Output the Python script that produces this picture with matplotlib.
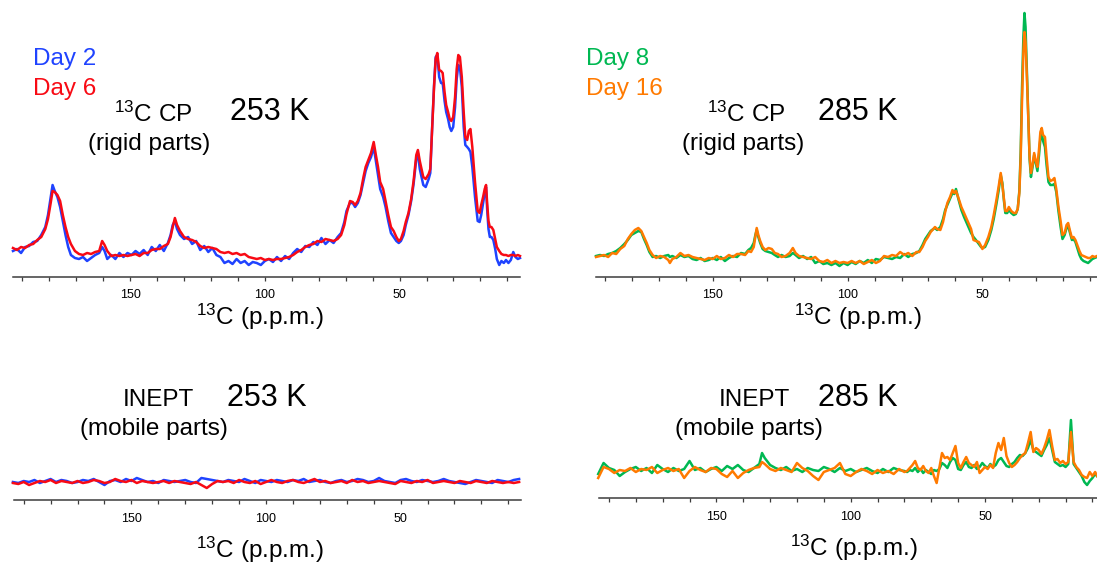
"""
13C CP / INEPT spectra at 253 K and 285 K
"""

import matplotlib
matplotlib.use("Agg")
import matplotlib.pyplot as plt

# ---- data (intensities in arbitrary units) ----

# 13C CP, 253 K
cp253_ppm = [193.5, 192, 190.5, 189, 187.5, 186, 184.5, 183, 181.5, 180.5,
             179.5, 178.8, 178, 177, 176, 175, 174, 173, 172, 170.5,
             169, 167.5, 166, 164.5, 163, 161.5, 160.4, 159.5, 158.5, 157,
             155.5, 154, 152.5, 151, 149.5, 148, 146.5, 145, 143.5, 142,
             140.5, 139, 137.5, 136, 135, 134.2, 133.4, 132.6, 131.5, 130,
             128.5, 127, 125.5, 124, 122.5, 121, 119.5, 118, 116.5, 115,
             113.5, 112, 110.5, 109, 107.5, 106, 104.5, 103, 101.5, 100,
             98.5, 97, 95.5, 94, 92.5, 91, 89.5, 88, 86.5, 85,
             83.5, 82, 80.5, 79, 77.5, 76, 74.5, 73, 71.7, 70.5,
             69.7, 68.4, 67.4, 66.5, 65.5, 64.5, 63.4, 62.6, 61.6, 60.6,
             59.6, 58.8, 58, 57.2, 56.1, 55.2, 54.2, 53.2, 52.2, 51.2,
             50.3, 49.5, 48.5, 47.7, 46.7, 45.7, 44.8, 43.8, 43.2, 42.5,
             41.2, 40.3, 39.2, 38.6, 37.9, 37.2, 36.6, 36.0, 35.3, 34.6,
             34.0, 33.3, 32.7, 32.0, 31.4, 30.8, 30.1, 29.4, 28.8, 28.2,
             27.6, 26.9, 26.2, 25.6, 24.9, 24.3, 23.7, 23.0, 22.0, 21.0,
             20.3, 19.7, 19.0, 18.4, 17.9, 17.5, 17.0, 16.5, 15.9, 15.2,
             14.5, 13.9, 13.0, 12.2, 11.3, 10.5, 9.6, 8.7, 7.8, 7.0,
             6.1, 5.3]
cp253_day2 = [26, 28, 24, 30, 31, 35, 36, 42, 50, 62,
              80, 92, 86, 80, 70, 56, 42, 30, 22, 19,
              18, 20, 16, 19, 22, 24, 30, 26, 18, 22,
              18, 24, 20, 24, 22, 26, 23, 27, 22, 30,
              26, 32, 26, 34, 42, 52, 56, 48, 42, 38,
              40, 33, 36, 27, 31, 25, 29, 22, 20, 14,
              16, 13, 18, 14, 16, 12, 15, 14, 12, 16,
              18, 15, 20, 16, 21, 18, 24, 28, 25, 31,
              30, 35, 32, 39, 33, 37, 34, 40, 44, 55,
              66, 74, 74, 70, 74, 82, 96, 106, 114, 120,
              130, 116, 102, 88, 80, 70, 56, 44, 40, 36,
              34, 36, 42, 52, 62, 76, 93, 118, 124, 108,
              92, 90, 98, 104, 150, 192, 220, 222, 200, 194,
              194, 176, 165, 158, 150, 146, 150, 170, 198, 212,
              210, 190, 150, 132, 130, 128, 125, 110, 80, 56,
              55, 62, 74, 84, 90, 68, 48, 40, 40, 37,
              28, 18, 12, 16, 14, 17, 14, 17, 25, 20,
              18, 19]
cp253_day6 = [29, 27, 30, 29, 32, 33, 37, 40, 48, 58,
              74, 86, 85, 82, 76, 62, 50, 40, 33, 26,
              23, 22, 24, 23, 25, 26, 36, 32, 26, 21,
              22, 21, 22, 21, 22, 23, 21, 24, 24, 27,
              28, 28, 31, 33, 40, 50, 59, 52, 46, 40,
              38, 37, 35, 31, 29, 30, 29, 28, 25, 24,
              25, 23, 24, 22, 23, 20, 19, 18, 19, 17,
              18, 17, 18, 18, 19, 20, 22, 25, 27, 30,
              32, 33, 36, 35, 38, 37, 36, 38, 42, 52,
              63, 76, 75, 72, 76, 84, 100, 110, 117, 124,
              135, 122, 110, 95, 88, 76, 62, 50, 46, 40,
              36, 38, 46, 55, 64, 78, 96, 122, 127, 116,
              100, 98, 103, 108, 150, 190, 218, 224, 207, 206,
              204, 185, 172, 165, 158, 156, 160, 180, 208, 222,
              220, 200, 165, 140, 137, 146, 148, 130, 95, 66,
              64, 72, 80, 88, 92, 74, 56, 50, 50, 47,
              38, 30, 26, 23, 22, 22, 21, 22, 22, 21,
              22, 21]

# 13C CP, 285 K
cp285_ppm = [193.3, 191.8, 190.3, 188.8, 187.3, 185.8, 184.3, 182.8, 181.5, 180.2,
             178.9, 177.6, 176.5, 175.5, 174.5, 173.5, 172.3, 171, 169.5, 168,
             166.5, 165.9, 165, 163.5, 162, 160.5, 159, 157.5, 156, 154.5,
             153, 151.5, 150, 148.5, 147, 145.5, 144, 142.5, 141, 139.5,
             138, 136.8, 135.8, 134.8, 134.2, 133.7, 133.1, 132.4, 131.5, 130.5,
             129.3, 128.1, 127, 125.8, 124.5, 123, 121.5, 120.3, 119.3, 118,
             116.5, 115, 113.5, 112, 110.5, 109, 107.5, 106, 104.5, 103,
             101.5, 100, 98.5, 97, 95.5, 94, 92.5, 91, 89.5, 88,
             86.5, 85, 83.5, 82, 80.5, 79, 77.5, 76, 74.5, 73.4,
             72.2, 71.2, 70.2, 69.2, 68.2, 67.6, 66.8, 65.6, 64.6, 63.8,
             63, 62, 61.1, 60.4, 59.8, 59, 57.8, 56.8, 55.2, 54.2,
             53.3, 52.4, 51.3, 50.5, 50.0, 49, 47.8, 46.7, 45.8, 44.8,
             44.0, 43.2, 42.6, 42.0, 41.5, 40.8, 40.2, 39.3, 38.4, 37.6,
             36.9, 36.3, 35.8, 35.3, 34.8, 34.4, 34.0, 33.5, 33.0, 32.5,
             32.0, 31.4, 30.8, 30.2, 29.6, 29.0, 28.5, 28.0, 27.5, 26.8,
             26.2, 25.5, 24.8, 24.0, 23.3, 22.6, 21.8, 21.0, 20.3, 19.5,
             18.8, 18.2, 17.5, 16.8, 16.2, 15.5, 14.8, 14.0, 13.3, 12.5,
             11.6, 10.8, 10.0, 9.2, 8.4, 7.5]
cp285_day8 = [21, 22, 21, 23, 24, 26, 29, 33, 37, 42,
              44, 46, 45, 38, 32, 25, 20, 21, 19, 21,
              22, 20, 21, 19, 22, 20, 21, 18, 17, 19,
              16, 17, 19, 17, 20, 16, 19, 21, 20, 24,
              23, 27, 29, 34, 42, 47, 40, 34, 28, 26,
              25, 24, 22, 20, 22, 20, 21, 24, 22, 19,
              21, 18, 20, 14, 16, 13, 14, 12, 14, 11,
              14, 12, 15, 13, 16, 14, 17, 14, 18, 17,
              20, 19, 18, 20, 19, 23, 20, 23, 24, 26,
              32, 38, 42, 46, 48, 49, 47, 50, 58, 67,
              72, 78, 84, 83, 88, 79, 67, 60, 50, 44,
              40, 37, 33, 30, 29, 30, 37, 47, 58, 73,
              86, 102, 94, 76, 64, 64, 67, 64, 62, 63,
              68, 86, 125, 190, 240, 264, 250, 205, 158, 118,
              100, 110, 122, 114, 106, 122, 138, 144, 136, 130,
              112, 95, 92, 92, 93, 85, 66, 50, 38, 42,
              49, 51, 44, 37, 38, 35, 29, 22, 18, 16,
              15, 14, 16, 18, 19, 20]
cp285_day16 = [20, 21, 22, 20, 24, 23, 28, 31, 38, 43,
               47, 49, 46, 40, 34, 27, 22, 19, 21, 20,
               17, 14, 18, 20, 24, 21, 22, 20, 19, 18,
               17, 19, 18, 21, 18, 19, 22, 20, 23, 23,
               22, 26, 25, 30, 40, 49, 42, 36, 30, 27,
               29, 28, 24, 23, 20, 21, 24, 29, 24, 21,
               20, 19, 18, 20, 16, 15, 17, 14, 16, 14,
               15, 14, 16, 14, 16, 13, 15, 17, 14, 16,
               21, 20, 22, 21, 25, 22, 24, 21, 25, 25,
               30, 36, 40, 45, 48, 50, 48, 47, 55, 65,
               74, 80, 87, 84, 86, 80, 70, 64, 54, 48,
               37, 36, 35, 31, 28, 32, 40, 50, 62, 77,
               90, 104, 92, 78, 66, 66, 70, 66, 64, 64,
               68, 84, 120, 177, 225, 245, 235, 200, 160, 120,
               104, 112, 124, 116, 110, 128, 145, 149, 142, 140,
               120, 100, 96, 97, 99, 88, 70, 56, 42, 44,
               52, 54, 46, 39, 40, 37, 32, 26, 22, 21,
               20, 19, 19, 21, 20, 21]

# INEPT, 253 K
inept253_ppm = [194, 192, 190, 188, 186, 184, 182, 180, 178, 176,
                174, 172, 170, 168, 166, 164, 162, 160, 158, 156,
                154, 152, 150, 148, 146, 144, 142, 140, 138, 136,
                134, 132, 130, 128, 126, 124, 122, 120, 118, 116,
                114, 112, 110, 108, 106, 104, 102, 100, 98, 96,
                94, 92, 90, 88, 86, 84, 82, 80, 78, 76,
                74, 72, 70, 68, 66, 64, 62, 60, 58, 56,
                54, 52, 50, 48, 46, 44, 42, 40, 38, 36,
                34, 32, 30, 28, 26, 24, 22, 20, 18, 16,
                14, 12, 10, 8, 6]
inept253_day2 = [18, 17, 19, 18, 20, 17, 19, 21, 18, 20,
                 19, 17, 18, 20, 19, 21, 18, 15, 19, 20,
                 18, 21, 19, 22, 20, 18, 19, 17, 20, 19,
                 18, 19, 20, 18, 17, 22, 21, 20, 19, 18,
                 20, 19, 18, 21, 19, 17, 20, 19, 18, 20,
                 19, 18, 20, 19, 21, 18, 19, 20, 18, 17,
                 19, 20, 18, 19, 21, 20, 18, 19, 22, 19,
                 18, 17, 20, 21, 19, 18, 20, 19, 18, 19,
                 21, 19, 18, 17, 16, 18, 20, 19, 18, 17,
                 20, 19, 18, 20, 21]
inept253_day6 = [17, 16, 18, 15, 17, 19, 18, 20, 17, 19,
                 18, 17, 19, 17, 18, 20, 19, 17, 18, 21,
                 19, 18, 20, 17, 19, 18, 17, 18, 19, 17,
                 19, 18, 17, 16, 18, 15, 12, 16, 19, 18,
                 19, 17, 20, 18, 17, 19, 16, 18, 20, 18,
                 17, 19, 20, 18, 17, 19, 21, 18, 19, 17,
                 18, 19, 17, 20, 18, 19, 17, 18, 19, 18,
                 17, 16, 19, 18, 17, 19, 18, 20, 17, 18,
                 19, 18, 17, 19, 18, 17, 19, 18, 17, 19,
                 18, 17, 18, 17, 18]

# INEPT, 285 K
inept285_ppm = [194, 192, 190, 188, 186, 184, 182, 180, 178, 176,
                174, 172, 170, 168, 166, 164, 162, 160, 158, 156,
                154, 152, 150, 148, 146, 144, 142, 140, 138, 136,
                134, 133, 132, 130, 128, 126, 124, 122, 120, 118,
                116, 114, 112, 110, 108, 106, 104, 102, 100, 98,
                96, 94, 92, 90, 88, 86, 84, 82, 80,
                79, 78, 77, 76, 75, 74, 73, 72, 71, 70,
                69, 68, 67, 66, 65, 64, 63, 62, 61, 60,
                59, 58, 57, 56, 55, 54, 53, 52, 51, 50,
                49, 48, 47, 46, 45, 44, 43, 42, 41, 40,
                39, 38, 37, 36, 35, 34, 33, 32, 31, 30,
                29, 28, 27, 26, 25, 24, 23, 22, 21, 20,
                19, 18, 17, 16, 15, 14, 13, 12, 11, 10,
                9, 8, 7]
inept285_day8 = [24, 35, 30, 28, 22, 26, 29, 31, 27, 30,
                 25, 33, 29, 26, 30, 27, 29, 37, 28, 30,
                 26, 29, 31, 27, 32, 29, 33, 28, 26, 30,
                 34, 45, 40, 33, 30, 28, 31, 27, 29, 26,
                 30, 28, 27, 31, 29, 26, 30, 27, 29, 26,
                 28, 30, 27, 25, 29, 26, 30, 28, 27,
                 26, 28, 27, 30, 26, 29, 25, 28, 26, 24,
                 28, 27, 29, 35, 33, 30, 36, 40, 38, 29,
                 28, 33, 36, 31, 30, 33, 29, 31, 35, 32,
                 30, 34, 31, 33, 38, 40, 36, 32, 31, 34,
                 36, 40, 43, 42, 45, 50, 58, 48, 46, 44,
                 42, 48, 53, 60, 48, 36, 34, 32, 33, 31,
                 34, 78, 34, 30, 26, 22, 16, 13, 17, 20,
                 24, 21, 25]
inept285_day16 = [20, 31, 29, 25, 28, 27, 30, 26, 29, 28,
                  31, 25, 28, 30, 27, 29, 20, 27, 31, 28,
                  26, 30, 29, 24, 21, 27, 20, 25, 28, 30,
                  31, 36, 34, 29, 27, 30, 28, 26, 35, 30,
                  27, 22, 18, 26, 28, 30, 35, 24, 22, 26,
                  29, 27, 24, 28, 25, 27, 24, 29, 26,
                  27, 30, 33, 37, 30, 28, 32, 27, 25, 30,
                  22, 15, 30, 45, 40, 41, 38, 45, 52, 35,
                  30, 36, 41, 35, 33, 31, 36, 25, 28, 31,
                  29, 33, 30, 45, 55, 48, 60, 42, 35, 31,
                  33, 36, 40, 43, 45, 55, 66, 46, 50, 48,
                  44, 50, 58, 68, 52, 38, 39, 35, 37, 34,
                  36, 66, 36, 31, 28, 23, 21, 20, 26, 22,
                  26, 21, 27]

tick_ppm = [190, 180, 170, 160, 150, 140, 130, 120, 110, 100,
            90, 80, 70, 60, 50, 40, 30, 20, 10]
tick_text = ["", "", "", "", "150", "", "", "", "", "100",
             "", "", "", "", "50", "", "", "", ""]

c_day2, c_day6 = "#1f43ff", "#f80a14"
c_day8, c_day16 = "#00b852", "#ff7a00"

# ---- figure ----
W, H = 1097, 566
plt.rcParams["font.family"] = ["Liberation Sans", "DejaVu Sans"]
plt.rcParams["mathtext.fontset"] = "custom"
plt.rcParams["mathtext.rm"] = "Liberation Sans"
plt.rcParams["mathtext.it"] = "Liberation Sans:italic"

fig = plt.figure(figsize=(W / 100, H / 100), dpi=100)


def panel(left, right, bottom, top, xlim, ylim):
    ax = fig.add_axes([left / W, 1 - bottom / H, (right - left) / W, (bottom - top) / H])
    ax.set_xlim(*xlim)
    ax.set_ylim(*ylim)
    ax.patch.set_alpha(0)
    for s in ["top", "left", "right"]:
        ax.spines[s].set_visible(False)
    ax.spines["bottom"].set_color("#3c3c3c")
    ax.spines["bottom"].set_linewidth(1.1)
    ax.set_yticks([])
    ax.set_xticks(tick_ppm)
    ax.set_xticklabels(tick_text)
    ax.tick_params(axis="x", direction="out", length=3, width=0.9,
                   color="#3c3c3c", labelsize=9, pad=6)
    return ax


def put(x, y, s, size=17.5, color="black"):
    fig.text(x / W, 1 - y / H, s, fontsize=size, color=color,
             ha="left", va="baseline")


kw = dict(lw=1.8, clip_on=False, solid_joinstyle="round")

# top left: CP 253 K
ax = panel(12.7, 520, 277, 10, (193.6, 5.3), (0, 267))
ax.plot(cp253_ppm, cp253_day2, color=c_day2, **kw)
ax.plot(cp253_ppm, cp253_day6, color=c_day6, **kw)

# top right: CP 285 K
ax = panel(596, 1097, 277, 10, (193.3, 7.5), (0, 267))
ax.plot(cp285_ppm, cp285_day8, color=c_day8, **kw)
ax.plot(cp285_ppm, cp285_day16, color=c_day16, **kw)

# bottom left: INEPT 253 K
ax = panel(14, 521, 500, 400, (193.6, 5.3), (0, 100))
ax.plot(inept253_ppm, inept253_day2, color=c_day2, **kw)
ax.plot(inept253_ppm, inept253_day6, color=c_day6, **kw)

# bottom right: INEPT 285 K
ax = panel(599, 1097, 498, 398, (193.7, 8.3), (0, 100))
ax.plot(inept285_ppm, inept285_day8, color=c_day8, **kw)
ax.plot(inept285_ppm, inept285_day16, color=c_day16, **kw)

# labels
put(33, 65, "Day 2", color=c_day2)
put(33, 95, "Day 6", color=c_day6)
put(114, 122, r"$^{13}$C CP")
put(88, 150, "(rigid parts)")
put(230, 120, "253 K", size=22)
put(196, 325, r"$^{13}$C (p.p.m.)")

put(586, 65, "Day 8", color=c_day8)
put(586, 95, "Day 16", color=c_day16)
put(707, 122, r"$^{13}$C CP")
put(682, 150, "(rigid parts)")
put(818, 120, "285 K", size=22)
put(794, 325, r"$^{13}$C (p.p.m.)")

put(123, 406, "INEPT")
put(227, 406, "253 K", size=22)
put(80, 435, "(mobile parts)")
put(196, 558, r"$^{13}$C (p.p.m.)")

put(719, 406, "INEPT")
put(818, 406, "285 K", size=22)
put(675, 435, "(mobile parts)")
put(790, 556, r"$^{13}$C (p.p.m.)")

fig.savefig("out.png", dpi=100)
